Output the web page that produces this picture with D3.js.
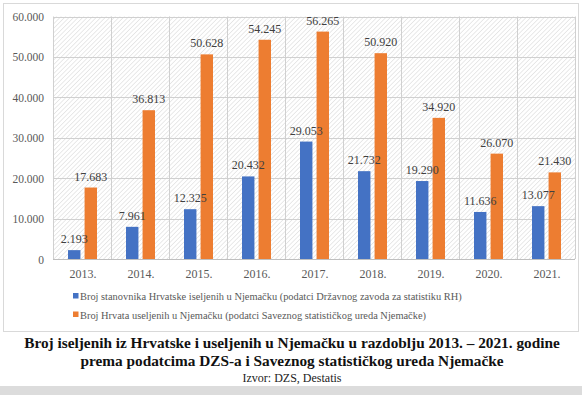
<!DOCTYPE html>
<html>
<head>
<meta charset="utf-8">
<script src="https://cdn.jsdelivr.net/npm/d3@7"></script>
<style>
  html, body { margin: 0; padding: 0; background: #fff; }
  svg { display: block; }
</style>
</head>
<body>
<svg id="chart" width="582" height="395"></svg>
<script>
var years = ['2013.', '2014.', '2015.', '2016.', '2017.', '2018.', '2019.', '2020.', '2021.'];
var dzsValues = [2193, 7961, 12325, 20432, 29053, 21732, 19290, 11636, 13077];
var destatisValues = [17683, 36813, 50628, 54245, 56265, 50920, 34920, 26070, 21430];
var yTicks = [0, 10000, 20000, 30000, 40000, 50000, 60000];
var seriesNames = [
    'Broj stanovnika Hrvatske iseljenih u Njemačku (podatci Državnog zavoda za statistiku RH)',
    'Broj Hrvata useljenih u Njemačku (podatci Saveznog statističkog ureda Njemačke)'
];
var seriesColors = ['#4472c4', '#ed7d31'];
var captionLines = [
    'Broj iseljenih iz Hrvatske i useljenih u Njemačku u razdoblju 2013. – 2021. godine',
    'prema podatcima DZS-a i Saveznog statističkog ureda Njemačke'
];
var sourceText = 'Izvor: DZS, Destatis';

var svg = d3.select('#chart');
var serif = "'Liberation Serif', 'Times New Roman', Tinos, 'DejaVu Serif', 'Noto Serif', serif";
var plot = {left: 53, right: 575, top: 16.5, bottom: 259};

// thousands separator is a dot
var fmt = function(v) {
    return v === 0 ? '0' : d3.format(',')(v).replace(/,/g, '.');
};

var x = d3.scaleBand().domain(years).range([plot.left, plot.right]);
var xSub = d3.scaleBand().domain([0, 1]).range([15, 44]).paddingInner(0.25);
var y = d3.scaleLinear().domain([0, 60000]).range([plot.bottom, plot.top]);

// hatched plot background
var defs = svg.append('defs');
var pat = defs.append('pattern')
    .attr('id', 'hatch')
    .attr('patternUnits', 'userSpaceOnUse')
    .attr('width', 3.2)
    .attr('height', 3.2)
    .attr('patternTransform', 'rotate(45)');
pat.append('line')
    .attr('x1', 0).attr('y1', 0)
    .attr('x2', 0).attr('y2', 3.2)
    .attr('stroke', '#d4d4d4')
    .attr('stroke-width', 1);

// outer chart frame
svg.append('rect')
    .attr('x', 3.5).attr('y', 3.5)
    .attr('width', 575).attr('height', 328)
    .attr('fill', '#fff')
    .attr('stroke', '#d9d9d9');

svg.append('rect')
    .attr('x', plot.left).attr('y', plot.top)
    .attr('width', plot.right - plot.left).attr('height', plot.bottom - plot.top)
    .attr('fill', 'url(#hatch)');

// gridlines
svg.append('g').selectAll('line.h')
    .data(yTicks)
    .enter().append('line')
    .attr('class', 'h')
    .attr('x1', plot.left).attr('x2', plot.right)
    .attr('y1', function(d) { return Math.round(y(d)) + 0.5; })
    .attr('y2', function(d) { return Math.round(y(d)) + 0.5; })
    .attr('stroke', function(d) { return d === 0 ? '#bfbfbf' : '#d0d0d0'; });

svg.append('g').selectAll('line.v')
    .data(years.concat(['end']))
    .enter().append('line')
    .attr('class', 'v')
    .attr('x1', function(d, i) { return Math.round(plot.left + i * x.step()) + 0.5; })
    .attr('x2', function(d, i) { return Math.round(plot.left + i * x.step()) + 0.5; })
    .attr('y1', plot.top).attr('y2', plot.bottom)
    .attr('stroke', '#d0d0d0');

// y axis labels
svg.append('g').selectAll('text')
    .data(yTicks)
    .enter().append('text')
    .attr('x', 44)
    .attr('y', function(d) { return y(d) + 4.5; })
    .attr('text-anchor', 'end')
    .attr('font-family', serif)
    .attr('font-size', 11.5)
    .attr('fill', '#595959')
    .text(fmt);

// x axis labels
svg.append('g').selectAll('text')
    .data(years)
    .enter().append('text')
    .attr('x', function(d) { return x(d) + x.bandwidth() / 2 + 1; })
    .attr('y', 277.5)
    .attr('text-anchor', 'middle')
    .attr('font-family', serif)
    .attr('font-size', 12)
    .attr('fill', '#595959')
    .text(function(d) { return d; });

// bars first, value labels on top of all bars
var series = [dzsValues, destatisValues];
series.forEach(function(vals, s) {
    svg.append('g').selectAll('rect')
        .data(vals)
        .enter().append('rect')
        .attr('x', function(d, i) { return x(years[i]) + xSub(s); })
        .attr('y', function(d) { return y(d); })
        .attr('width', xSub.bandwidth())
        .attr('height', function(d) { return y(0) - y(d); })
        .attr('fill', seriesColors[s]);
});
series.forEach(function(vals, s) {
    svg.append('g').selectAll('text')
        .data(vals)
        .enter().append('text')
        .attr('x', function(d, i) { return x(years[i]) + xSub(s) + xSub.bandwidth() / 2; })
        .attr('y', function(d) { return y(d) - 7; })
        .attr('text-anchor', 'middle')
        .attr('font-family', serif)
        .attr('font-size', 12)
        .attr('fill', '#404040')
        .text(fmt);
});

// legend
var legend = svg.append('g').selectAll('g')
    .data(seriesNames)
    .enter().append('g')
    .attr('transform', function(d, i) { return 'translate(73,' + (296 + i * 18.5) + ')'; });
legend.append('rect')
    .attr('x', 0).attr('y', -3)
    .attr('width', 5.5).attr('height', 5.5)
    .attr('fill', function(d, i) { return seriesColors[i]; });
legend.append('text')
    .attr('x', 7)
    .attr('y', 4)
    .attr('font-family', serif)
    .attr('font-size', 10.4)
    .attr('fill', '#595959')
    .text(function(d) { return d; });

// caption under the chart
svg.append('g').selectAll('text')
    .data(captionLines)
    .enter().append('text')
    .attr('x', 292)
    .attr('y', function(d, i) { return 348 + i * 18; })
    .attr('text-anchor', 'middle')
    .attr('font-family', serif)
    .attr('font-weight', 'bold')
    .attr('font-size', 15.3)
    .attr('fill', '#111')
    .text(function(d) { return d; });

svg.append('text')
    .attr('x', 292)
    .attr('y', 381.5)
    .attr('text-anchor', 'middle')
    .attr('font-family', serif)
    .attr('font-size', 12)
    .attr('fill', '#222')
    .text(sourceText);

svg.append('rect')
    .attr('x', 0).attr('y', 386)
    .attr('width', 582).attr('height', 9)
    .attr('fill', '#dcdcdc');
</script>
</body>
</html>
